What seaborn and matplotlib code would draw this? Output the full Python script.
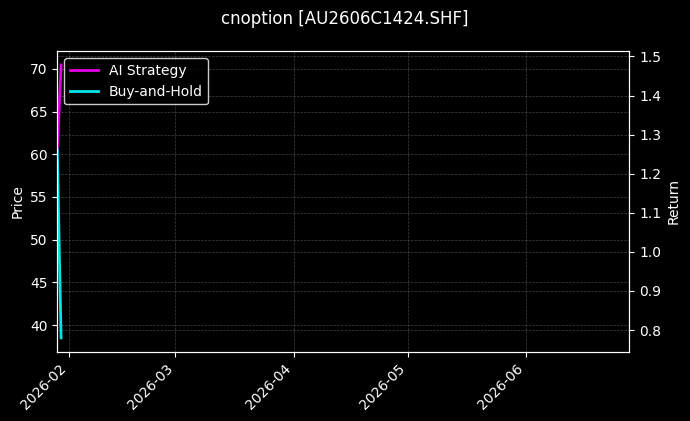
import matplotlib
matplotlib.use("Agg")
import matplotlib.pyplot as plt
import matplotlib.dates as mdates
from matplotlib.lines import Line2D
import seaborn as sns
import pandas as pd
import numpy as np

# Data
dates = ["2026-01-29", "2026-01-30"]
ai_strategy = [1.26, 1.478]
buy_and_hold = [1.26, 0.780]
price_ylim = (36.9, 72.05)
x_range = ("2026-01-29", "2026-06-28")
title = "cnoption [AU2606C1424.SHF]"

plt.style.use("dark_background")
plt.rcParams["font.family"] = ["DejaVu Sans"]

df = pd.DataFrame({
    "date": pd.to_datetime(dates * 2),
    "value": ai_strategy + buy_and_hold,
    "series": ["AI Strategy"] * len(dates) + ["Buy-and-Hold"] * len(dates),
})

fig, ax1 = plt.subplots(figsize=(6.9, 4.21), dpi=100)
fig.patch.set_facecolor("black")
ax1.set_facecolor("black")

ax1.set_ylim(*price_ylim)
ax1.set_ylabel("Price", color="white")
ax1.set_yticks(np.arange(40, 71, 5))
ax1.grid(True, linestyle="--", linewidth=0.5, color="gray", alpha=0.5)

ax2 = ax1.twinx()
sns.lineplot(data=df, x="date", y="value", hue="series",
             palette={"AI Strategy": "magenta", "Buy-and-Hold": "cyan"},
             linewidth=2, alpha=0.9, ax=ax2, legend=False)
ax2.set_ylabel("Return", color="white")
ax2.set_xlabel("")
ax2.grid(True, linestyle="--", linewidth=0.5, color="gray", alpha=0.5)
ax1.set_xlim(pd.to_datetime(x_range[0]), pd.to_datetime(x_range[1]))
ax1.xaxis.set_major_locator(mdates.MonthLocator())
ax1.xaxis.set_major_formatter(mdates.DateFormatter("%Y-%m"))
for lbl in ax1.get_xticklabels():
    lbl.set_rotation(45)
    lbl.set_ha("right")
ax1.set_xlabel("")

handles = [Line2D([], [], color="magenta", lw=2, alpha=0.9),
           Line2D([], [], color="cyan", lw=2, alpha=0.9)]
ax2.legend(handles, ["AI Strategy", "Buy-and-Hold"], loc="upper left",
           facecolor="black", edgecolor="white")

fig.suptitle(title, color="white", fontsize=12, y=0.977)
fig.subplots_adjust(left=0.083, right=0.912, top=0.878, bottom=0.165)
fig.savefig("out.png", dpi=100, facecolor="black")
